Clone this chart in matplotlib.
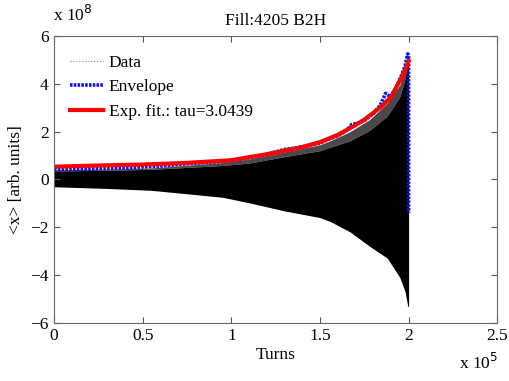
import matplotlib
matplotlib.use("Agg")
import matplotlib.pyplot as plt
from matplotlib.lines import Line2D

plt.rcParams['font.family'] = ['Liberation Serif', 'DejaVu Serif']
plt.rcParams['font.size'] = 12.5

# values in display units: turns x 1e5, <x> x 1e8
# envelope (blue)
env_x = [0.0, 0.1, 0.2, 0.3, 0.4, 0.5, 0.6, 0.7, 0.8, 0.9, 1.0, 1.1, 1.2, 1.25,
         1.3, 1.35, 1.4, 1.45, 1.5, 1.55, 1.6, 1.65, 1.68, 1.71, 1.75, 1.8,
         1.84, 1.87, 1.9, 1.93, 1.96, 1.98, 1.995, 2.0, 2.0]
env_y = [0.40, 0.42, 0.44, 0.46, 0.48, 0.52, 0.56, 0.62, 0.68, 0.72, 0.78, 0.90, 1.05, 1.15,
         1.25, 1.30, 1.36, 1.45, 1.52, 1.68, 1.82, 2.05, 2.30, 2.35, 2.45, 2.75,
         3.10, 3.60, 3.45, 3.85, 4.35, 4.75, 5.25, 5.20, -1.40]

# exponential fit (red)
fit_x = [0.0, 0.25, 0.5, 0.75, 1.0, 1.1, 1.2, 1.3, 1.4, 1.5, 1.6, 1.7, 1.75,
         1.8, 1.85, 1.9, 1.95, 1.975, 2.0]
fit_y = [0.53, 0.58, 0.62, 0.69, 0.80, 0.93, 1.05, 1.20, 1.35, 1.56, 1.86, 2.27, 2.50,
         2.78, 3.07, 3.45, 4.12, 4.50, 4.95]

# raw data: dense oscillation, read as peaks / dense top / bottom of the band
data_x = [0.0, 0.3, 0.55, 0.8, 0.95, 1.1, 1.3, 1.5, 1.56, 1.67, 1.78, 1.88,
          1.95, 1.98, 1.995, 2.0]
data_peak = [0.40, 0.43, 0.48, 0.62, 0.70, 0.85, 1.15, 1.45, 1.62, 2.00, 2.50, 3.20,
             3.95, 4.60, 5.15, 5.15]
data_top = [0.35, 0.38, 0.42, 0.52, 0.58, 0.68, 0.95, 1.20, 1.35, 1.62, 2.05, 2.65,
            3.45, 4.20, 4.90, 5.00]
data_bot = [-0.31, -0.38, -0.46, -0.64, -0.75, -0.98, -1.32, -1.60, -1.77, -2.20, -2.80, -3.30,
            -4.10, -4.70, -5.30, -5.33]

x_ticks = [0, 0.5, 1, 1.5, 2, 2.5]
y_ticks = [-6, -4, -2, 0, 2, 4, 6]

fig = plt.figure(figsize=(5.1, 3.81), dpi=100)
ax = fig.add_axes([0.106, 0.153, 0.869, 0.7525])

ax.fill_between(data_x, data_top, data_peak, color='#4a4a4a', lw=0)
ax.fill_between(data_x, data_bot, data_top, color='black', lw=0)
ax.plot(env_x, env_y, color='#1010f0', lw=2.6, dashes=(0.7, 0.35))
ax.plot(fit_x, fit_y, color='red', lw=3)

ax.set_xlim(0, 2.5)
ax.set_ylim(-6, 6)
ax.set_xticks(x_ticks)
ax.set_xticklabels(['0', '0.5', '1', '1.5', '2', '2.5'])
ax.set_yticks(y_ticks)
ax.tick_params(direction='in', top=True, right=True, length=4, color='#555555', pad=4)
for s in ax.spines.values():
    s.set_color('#666666')

ax.set_title('Fill:4205 B2H', fontsize=12.5, pad=8)
ax.set_xlabel('Turns', labelpad=2)
ax.set_ylabel('<x> [arb. units]', labelpad=4)

fig.text(0.104, 0.935, 'x 10$^{8}$', fontsize=12.5, ha='left', va='bottom')
fig.text(0.90, 0.02, 'x 10$^{5}$', fontsize=12.5, ha='left', va='bottom')

handles = [Line2D([], [], color='#888888', ls=':', lw=0.8),
           Line2D([], [], color='#1010f0', lw=2.6, dashes=(0.7, 0.35)),
           Line2D([], [], color='red', lw=3)]
labels = ['Data', 'Envelope', 'Exp. fit.: tau=3.0439']
ax.legend(handles, labels, loc='upper left', bbox_to_anchor=(0.0, 0.99), frameon=False,
          handlelength=1.9, handletextpad=0.35, labelspacing=0.5, borderaxespad=0.5,
          fontsize=12.5)

fig.savefig('out.png', dpi=100)
